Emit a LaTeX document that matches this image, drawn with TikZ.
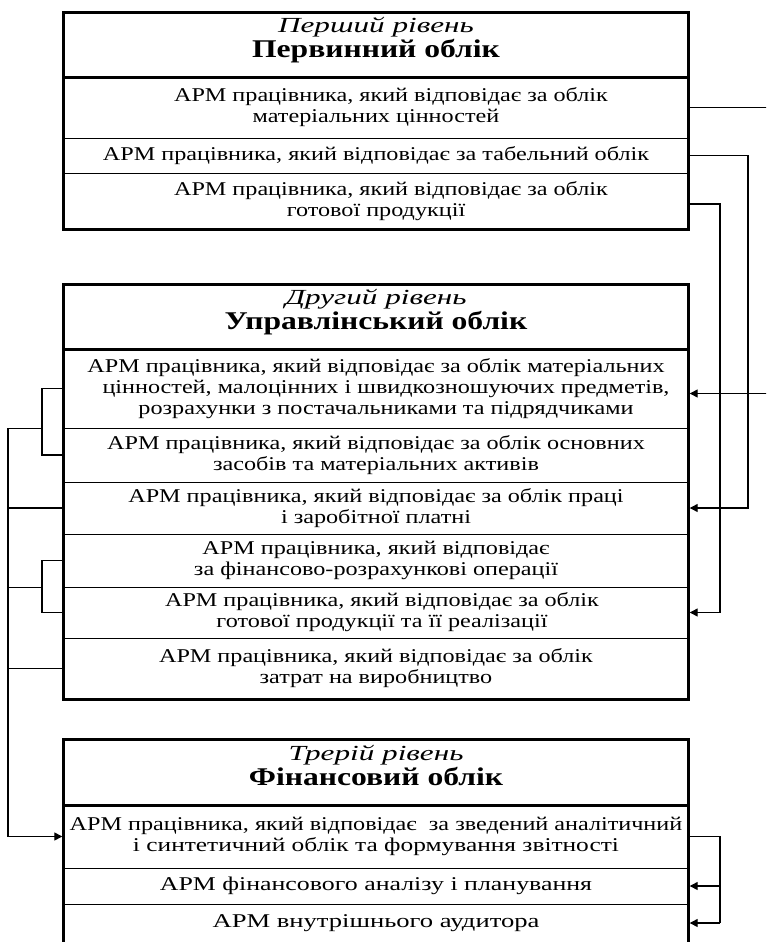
\documentclass[tikz,border=0pt]{standalone}
\usepackage{fontspec}
\setmainfont{Liberation Serif}[FakeStretch=1.24]
\newfontfamily\headitfont{Liberation Serif}[FakeStretch=1.45]
\usetikzlibrary{arrows.meta,calc}
\begin{document}
\begin{tikzpicture}[x=1pt,y=-1pt,
  rowbox/.style={draw=none,inner sep=0pt,minimum width=624pt,align=center,
    font=\fontsize{19.5}{21}\selectfont},
  headbox/.style={rowbox,minimum height=64pt,font=\fontsize{25.5}{25}\selectfont},
  frame/.style={line width=3pt},
  sep/.style={line width=1.3pt},
  conn/.style={line width=1.3pt},
  arr/.style={-{Triangle[length=8pt,width=8pt]},shorten >=1.5pt}
]
\useasboundingbox (0,0) rectangle (766,942);
\clip (0,0) rectangle (766,942);

\newcommand\headtext[2]{{\headitfont\itshape\fontsize{21.5}{25}\selectfont #1}\\%
  {\bfseries #2\rule[-15pt]{0pt}{15pt}}}
\newcommand\indentline[1]{\hspace*{#1pt}}

% ---- first level
\node[headbox] (h1) at (376,45) {\headtext{Перший рівень}{Первинний облік}};
\node[rowbox,minimum height=61pt] (b1r1) at (376,107.5)
  {\indentline{30}АРМ працівника, який відповідає за облік\\матеріальних цінностей};
\node[rowbox,minimum height=35pt] (b1r2) at (376,155.5)
  {АРМ працівника, який відповідає за табельний облік};
\node[rowbox,minimum height=56pt] (b1r3) at (376,201)
  {\indentline{30}АРМ працівника, який відповідає за облік\\готової продукції};

% ---- second level
\node[headbox] (h2) at (376,317) {\headtext{Другий рівень}{Управлінський облік}};
\node[rowbox,minimum height=79pt] (b2r1) at (376,388.5)
  {АРМ працівника, який відповідає за облік матеріальних\\
   \indentline{20}цінностей, малоцінних і швидкозношуючих предметів,\\
   \indentline{20}розрахунки з постачальниками та підрядчиками};
\node[rowbox,minimum height=54pt] (b2r2) at (376,455)
  {АРМ працівника, який відповідає за облік основних\\засобів та матеріальних активів};
\node[rowbox,minimum height=52pt] (b2r3) at (376,508)
  {АРМ працівника, який відповідає за облік праці\\і заробітної платні};
\node[rowbox,minimum height=53pt] (b2r4) at (376,560.5)
  {АРМ працівника, який відповідає\\за фінансово-розрахункові операції};
\node[rowbox,minimum height=51pt] (b2r5) at (376,612.5)
  {\indentline{12}АРМ працівника, який відповідає за облік\\
   \indentline{12}готової продукції та її реалізації};
\node[rowbox,minimum height=61pt] (b2r6) at (376,668.5)
  {АРМ працівника, який відповідає за облік\\затрат на виробництво};

% ---- third level
\node[headbox,minimum height=65pt] (h3) at (376,772.5) {\headtext{Трерій рівень}{Фінансовий облік}};
\node[rowbox,minimum height=63pt] (b3r1) at (376,836.5)
  {АРМ працівника, який відповідає\ \ за зведений аналітичний\\
   \scalebox{1.05}[1]{і синтетичний облік та формування звітності}};
\node[rowbox,minimum height=36pt] (b3r2) at (376,886)
  {\scalebox{1.07}[1]{АРМ фінансового аналізу і планування}};
\node[rowbox,minimum height=38pt] (b3r3) at (376,923)
  {\scalebox{1.1}[1]{АРМ внутрішнього аудитора}};
\coordinate (b3bot) at (688,948);

% ---- frames and row separators
\draw[frame] (h1.north west) rectangle (b1r3.south east);
\draw[frame] (h1.south west) -- (h1.south east);
\foreach \r in {b1r1,b1r2}
  \draw[sep] (\r.south west) -- (\r.south east);

\draw[frame] (h2.north west) rectangle (b2r6.south east);
\draw[frame] (h2.south west) -- (h2.south east);
\foreach \r in {b2r1,b2r2,b2r3,b2r4,b2r5}
  \draw[sep] (\r.south west) -- (\r.south east);

\draw[frame] (h3.north west) rectangle (b3bot);
\draw[frame] (h3.south west) -- (h3.south east);
\foreach \r in {b3r1,b3r2}
  \draw[sep] (\r.south west) -- (\r.south east);

% ---- connector rails
\coordinate (railA) at (776,0);
\coordinate (railB) at (748,0);
\coordinate (railC) at (720,0);
\coordinate (brk) at (42,0);
\coordinate (busL) at (8,0);
\coordinate (in21) at ([yshift=-5pt]b2r1.east);
\coordinate (out13) at ([yshift=-3pt]b1r3.east);

% right side: first level to second level
\draw[conn,arr] (b1r1.east) -- (b1r1.east -| railA) -- (in21 -| railA) -- (in21);
\draw[conn,arr] (b1r2.east) -- (b1r2.east -| railB) -- (b2r3.east -| railB) -- (b2r3.east);
\draw[conn,arr] (out13) -- (out13 -| railC) -- (b2r5.east -| railC) -- (b2r5.east);

% left side: second level to third level
\draw[conn] (b2r1.west) -- (b2r1.west -| brk) -- (b2r2.west -| brk) -- (b2r2.west);
\draw[conn] (b2r1.south west -| brk) -- (b2r1.south west -| busL);
\draw[conn] (b2r3.west) -- (b2r3.west -| busL);
\draw[conn] (b2r4.west) -- (b2r4.west -| brk) -- (b2r5.west -| brk) -- (b2r5.west);
\draw[conn] (b2r4.south west -| brk) -- (b2r4.south west -| busL);
\draw[conn] (b2r6.west) -- (b2r6.west -| busL);
\draw[conn,arr] (b2r1.south west -| busL) -- (b3r1.west -| busL) -- (b3r1.west);

% third level internal links
\draw[conn] (b3r1.east) -- (b3r1.east -| railC) -- (b3r3.east -| railC);
\draw[conn,arr] (b3r2.east -| railC) -- (b3r2.east);
\draw[conn,arr] (b3r3.east -| railC) -- (b3r3.east);
\end{tikzpicture}
\end{document}
